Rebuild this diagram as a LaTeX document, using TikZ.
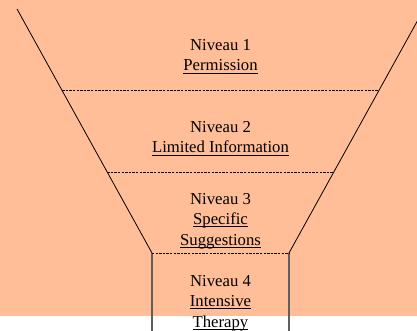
\documentclass[tikz,border=0pt]{standalone}
\usepackage{fontspec}
\setmainfont{Liberation Serif}
\definecolor{peche}{RGB}{255,190,152}
\definecolor{grisfonce}{RGB}{95,95,95}
\newsavebox\niveaubox
\newcommand\souligne[1]{\sbox\niveaubox{#1}\rlap{\rule[-2.6pt]{\wd\niveaubox}{0.9pt}}\usebox\niveaubox}
\tikzset{
  niveau/.style={align=center, inner sep=0pt, anchor=base,
                 font=\fontsize{16.7}{20.5}\selectfont},
  separation/.style={line width=0.8pt, dash pattern=on 2.4pt off 1.2pt},
}
\begin{document}
\begin{tikzpicture}[x=1pt,y=-1pt]%{{{
\useasboundingbox (0,0) rectangle (417,331);
\clip  (0,0) rectangle (417,331);
%
% Fond
\path [fill=peche] (0,0) rectangle (417,315.5);
%
% Entonnoir
\draw [line width=0.8pt] (17,9) -- ++(135,244);
\draw [line width=0.8pt] (424,9) -- ++(-135,244);
\draw [grisfonce, line width=1.1pt] (152,253) -- ++(0,78);
\draw [grisfonce, line width=1.1pt] (289,253) -- ++(0,78);
%
% Separations
\draw [separation] (62.1,90.5) -- (378.9,90.5);
\draw [separation] (107.2,172) -- (333.8,172);
\draw [separation] (152,253) -- (289,253);
%
% Niveaux (ancre = ligne de base de la derniere ligne)
\node [niveau] (niv1) at (220.5,71)  {Niveau 1\\\souligne{Permission}};
\node [niveau] (niv2) at (220.5,153) {Niveau 2\\\souligne{Limited Information}};
\node [niveau] (niv3) at (220.5,245) {Niveau 3\\\souligne{Specific}\\\souligne{Suggestions}};
\node [niveau] (niv4) at (220.5,327) {Niveau 4\\\souligne{Intensive}\\\souligne{Therapy}};
%
\end{tikzpicture}
\end{document}
